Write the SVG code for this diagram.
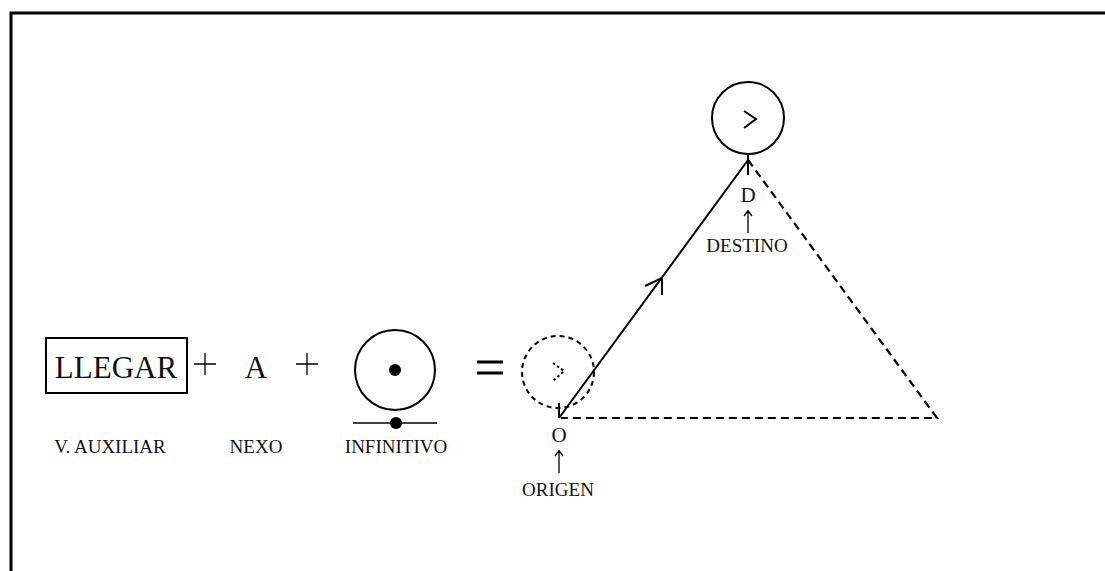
<svg xmlns="http://www.w3.org/2000/svg" width="1105" height="571" viewBox="0 0 1105 571">
<defs>
<style>
text{font-family:"Liberation Serif","Times New Roman",serif;fill:#111;text-anchor:middle}
.big{font-size:31px}
.lbl{font-size:19px}
.mid{font-size:21px}
.s{stroke:#000;fill:none;stroke-width:2}
.t{stroke:#000;fill:none;stroke-width:1.3}
.d{stroke:#000;fill:none;stroke-width:2.2;stroke-dasharray:8 5}
</style>
</defs>
<rect width="1105" height="571" fill="#fff"/>
<path d="M11,575 V13 H1110" fill="none" stroke="#000" stroke-width="3"/>

<g id="llegar">
<rect x="46" y="338" width="141" height="55" class="s"/>
<text x="116" y="378" class="big">LLEGAR</text>
<text x="110" y="453" class="lbl">V. AUXILIAR</text>
</g>
<g id="plus1"><path d="M194,364 H216 M205,353 V375" class="t"/></g>
<g id="nexo">
<text x="256" y="378" class="big">A</text>
<text x="256" y="453" class="lbl">NEXO</text>
</g>
<g id="plus2"><path d="M296,364 H318 M307,353 V375" class="t"/></g>
<g id="infinitivo">
<circle cx="395" cy="370" r="40" class="s"/>
<circle cx="395" cy="370" r="6" fill="#000"/>
<line x1="353" y1="423" x2="437" y2="423" stroke="#000" stroke-width="1.5"/>
<circle cx="396" cy="423" r="6" fill="#000"/>
<text x="396" y="453" class="lbl">INFINITIVO</text>
</g>
<g id="equals">
<line x1="477" y1="362" x2="503" y2="362" stroke="#000" stroke-width="3"/>
<line x1="477" y1="373" x2="503" y2="373" stroke="#000" stroke-width="3"/>
</g>
<g id="origen">
<circle cx="558" cy="372" r="36" fill="none" stroke="#000" stroke-width="2" stroke-dasharray="5 4"/>
<polyline points="553,363 564,371 553,381" fill="none" stroke="#000" stroke-width="2" stroke-dasharray="2.5 2.5"/>
<line x1="559" y1="403" x2="559" y2="418" stroke="#000" stroke-width="2"/>
<text x="559" y="442" class="mid">O</text>
<path d="M559,473 V451 M555,456 L559,450.5 L563,456" class="t"/>
<text x="558" y="496" class="lbl">ORIGEN</text>
</g>
<g id="destino">
<circle cx="748" cy="118" r="36" class="s"/>
<polyline points="744,111 756,119 744,128" fill="none" stroke="#000" stroke-width="2"/>
<line x1="748" y1="154" x2="748" y2="175" stroke="#000" stroke-width="2"/>
<text x="748" y="202" class="mid">D</text>
<path d="M748,233 V211 M744,216 L748,210.5 L752,216" class="t"/>
<text x="747" y="252" class="lbl">DESTINO</text>
</g>
<g id="connectors">
<line x1="559" y1="418" x2="748" y2="160" class="s"/>
<polyline points="645,286 662,278 662,295" fill="none" stroke="#000" stroke-width="2"/>
<polyline points="748,160 937,418 561,418" class="d"/>
</g>
</svg>
